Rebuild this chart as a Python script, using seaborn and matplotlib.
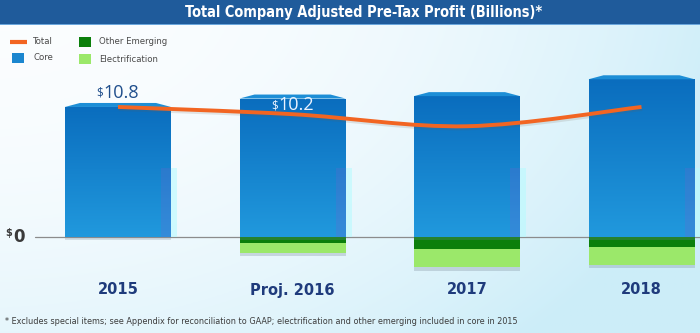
import numpy as np
import pandas as pd
import matplotlib
matplotlib.use("Agg")
import matplotlib.pyplot as plt
import matplotlib.patheffects as pe
from matplotlib import font_manager
from matplotlib.path import Path
from matplotlib.patches import PathPatch, Polygon, Rectangle
from matplotlib.colors import LinearSegmentedColormap
import seaborn as sns

# ---- data (billions of dollars) ----
years = ["2015", "Proj. 2016", "2017", "2018"]
core = [10.8, 11.5, 11.7, 13.1]
other_emerging = [0.0, -0.5, -1.0, -0.8]
electrification = [0.0, -0.8, -1.5, -1.5]
total = [10.8, 10.2, 9.2, 10.8]
value_labels = {0: "10.8", 1: "10.2"}

title = "Total Company Adjusted Pre-Tax Profit (Billions)*"
footnote = ("* Excludes special items; see Appendix for reconciliation to GAAP; "
            "electrification and other emerging included in core in 2015")

# ---- colours ----
C_TOTAL = "#f26522"
C_CORE = "#1b86cf"
C_CORE_TOP = "#0a6dbe"
C_CORE_BOT = "#2199dd"
C_BEVEL = "#1d8ed6"
C_OTHER = "#0b7f0b"
C_ELEC = "#9be86a"
C_NAVY = "#1f3b7c"

# pick a narrow face for the title, legend and footnote
_names = {f.name for f in font_manager.fontManager.ttflist}
_cond = {f.name for f in font_manager.fontManager.ttflist
         if f.stretch in ("condensed", "semi-condensed", 375)}
if "Liberation Sans Narrow" in _names:
    NARROW, STRETCH, NSCALE = ["Liberation Sans Narrow", "DejaVu Sans"], "normal", 1.0
elif "DejaVu Sans" in _cond:
    NARROW, STRETCH, NSCALE = ["DejaVu Sans"], "condensed", 0.95
else:
    NARROW, STRETCH, NSCALE = ["Roboto", "DejaVu Sans"], "normal", 0.86

sns.set_theme(style="white")
plt.rcParams["font.family"] = ["DejaVu Sans"]

W, H = 700, 333
fig = plt.figure(figsize=(W / 100, H / 100), dpi=100)

# background wash: white on the left fading into pale blue to the right/bottom
bg = fig.add_axes([0, 0, 1, 1], zorder=-10)
gx, gy = np.meshgrid(np.linspace(0, 1, 300), np.linspace(0, 1, 150))
t = np.clip(0.85 * gx ** 2.2 + 0.45 * gy ** 2 + 0.1 * gx * gy, 0, 1)
white = np.array([0.985, 0.993, 1.0])
blue = np.array([0.80, 0.93, 0.975])
img = white[None, None, :] * (1 - t[..., None]) + blue[None, None, :] * t[..., None]
bg.imshow(img, aspect="auto", extent=[0, 1, 0, 1], origin="upper")
bg.set_axis_off()

ax = fig.add_axes([0, 0, 1, 1])
ax.patch.set_alpha(0)
PXX, PXY = 174.5, 12.04          # pixels per category / per billion
X0, Y0 = 118, 237                 # pixel position of first category and of zero

df = pd.DataFrame({
    "year": years,
    "core": core,
    "neg_all": np.array(other_emerging) + np.array(electrification),
    "other": other_emerging,
})
BW = 106 / PXX

# negative stack: electrification drawn to the full negative depth, other emerging on top
sns.barplot(data=df, x="year", y="neg_all", color=C_ELEC, saturation=1,
            width=BW, ax=ax, zorder=2)
sns.barplot(data=df, x="year", y="other", color=C_OTHER, saturation=1,
            width=BW, ax=ax, zorder=3)
sns.barplot(data=df, x="year", y="core", color=C_CORE, saturation=1,
            width=BW, ax=ax, zorder=3)
neg_bars, other_bars, core_bars = ax.containers[:3]

ax.set_xlim(-X0 / PXX, (W - X0) / PXX)
ax.set_ylim(-(H - Y0) / PXY, Y0 / PXY)

for b in neg_bars:
    b.set_edgecolor("none")
    if b.get_height() < 0:
        b.set_path_effects([pe.SimplePatchShadow(offset=(0, -2.5), shadow_rgbFace="#7a8a99",
                                                 alpha=0.3), pe.Normal()])
for b in other_bars:
    b.set_edgecolor("none")

grad = np.linspace(0, 1, 256)[:, None]
cmap = LinearSegmentedColormap.from_list("core", [C_CORE_TOP, C_CORE_BOT])
for b, v in zip(core_bars, core):
    b.set_edgecolor("none")
    x0, w = b.get_x(), b.get_width()
    b.set_path_effects([pe.SimplePatchShadow(offset=(0, -2), shadow_rgbFace="#7a8a99",
                                             alpha=0.25), pe.Normal()])
    im = ax.imshow(grad, cmap=cmap, aspect="auto", extent=[x0, x0 + w, 0, v],
                   origin="upper", zorder=3.5)
    im.set_clip_path(b)
    # chamfered cap on top of each core bar
    inset, cap = 15 / PXX, 4 / PXY
    ax.add_patch(Polygon([(x0, v), (x0 + inset, v + cap), (x0 + w - inset, v + cap),
                          (x0 + w, v)], closed=True, facecolor=C_BEVEL,
                         edgecolor="none", zorder=3.5))
    # faint translucent strips along the lower right edge of each column
    ax.add_patch(Rectangle((x0 + w - 10 / PXX, 0), 10 / PXX, 5.7, facecolor="#7a5fd0",
                           alpha=0.22, edgecolor="none", zorder=3.6))
    ax.add_patch(Rectangle((x0 + w, 0), 6 / PXX, 5.7, facecolor="#b8fbff",
                           alpha=0.6, edgecolor="none", zorder=1.5))

# zero baseline
ax.plot([-(X0 - 35) / PXX, (W - X0) / PXX], [0, 0], color="#8c8c8c", lw=0.9, zorder=1)

# smooth total line (Catmull-Rom through the totals, drawn as cubic Beziers)
xs = np.arange(len(total), dtype=float)
ys = np.array(total, dtype=float)
verts = [(xs[0], ys[0])]
codes = [Path.MOVETO]
n = len(xs)
for i in range(n - 1):
    p0 = np.array([xs[max(i - 1, 0)], ys[max(i - 1, 0)]])
    p1 = np.array([xs[i], ys[i]])
    p2 = np.array([xs[i + 1], ys[i + 1]])
    p3 = np.array([xs[min(i + 2, n - 1)], ys[min(i + 2, n - 1)]])
    c1 = p1 + (p2 - p0) / 6
    c2 = p2 - (p3 - p1) / 6
    verts += [tuple(c1), tuple(c2), tuple(p2)]
    codes += [Path.CURVE4] * 3
line = PathPatch(Path(verts, codes), facecolor="none", edgecolor=C_TOTAL, lw=2.8,
                 capstyle="butt", zorder=5)
line.set_path_effects([pe.SimpleLineShadow(offset=(0.5, -1.5), shadow_color="#6b5a4a",
                                           alpha=0.15), pe.Normal()])
ax.add_patch(line)

# value labels with a small raised dollar sign
for i, txt in value_labels.items():
    if core[i] - total[i] < 0.3:
        y, col = core[i] + 1.2, "#1f4e8c"
    else:
        y, col = core[i] - 0.5, "#eaf2ff"
    t_num = ax.text(i + 0.02, y, txt, ha="center", va="center", fontsize=13,
                    family=["Open Sans", "DejaVu Sans"], color=col, zorder=6)
    ax.annotate("$", xy=(0, 1), xycoords=t_num, xytext=(-0.3, -2.5),
                textcoords="offset points", ha="right", va="top", fontsize=8.5,
                family=["Open Sans", "DejaVu Sans"], color=col, zorder=6)

# category labels
for i, yr in enumerate(years):
    ax.text(i, -(290 - Y0) / PXY, yr, ha="center", va="center", fontsize=10.5,
            fontweight="bold", color=C_NAVY, zorder=6)

# $0 axis label
z = ax.text(-(X0 - 13) / PXX, 0, "0", ha="left", va="center", fontsize=12,
            fontweight="bold", color="#3a3a3a", zorder=6)
ax.annotate("$", xy=(0, 1), xycoords=z, xytext=(-0.5, 0), textcoords="offset points",
            ha="right", va="top", fontsize=7, fontweight="bold", color="#3a3a3a")

ax.set_axis_off()

# ---- title band ----
def fy(py):
    return 1 - py / H

fig.patches.append(Rectangle((0, fy(24)), 1, 24 / H, transform=fig.transFigure,
                             facecolor="#1f5b9b", edgecolor="none", zorder=10))
fig.patches.append(Rectangle((0, fy(25)), 1, 1.2 / H, transform=fig.transFigure,
                             facecolor="#6aa6dc", edgecolor="none", zorder=10))
fig.text(364 / W, fy(12.5), title, ha="center", va="center", color="white",
         fontsize=11 * NSCALE, fontweight="bold", family=NARROW, stretch=STRETCH,
         zorder=11)

# ---- legend ----
fig.lines.append(plt.Line2D([10 / W, 27 / W], [fy(41.5)] * 2, transform=fig.transFigure,
                            color=C_TOTAL, lw=3, solid_capstyle="butt"))
for (px, py, col) in [(12, 52.5, C_CORE), (79, 37, C_OTHER), (79, 54, C_ELEC)]:
    fig.patches.append(Rectangle((px / W, fy(py + 10)), 12 / W, 10 / H,
                                 transform=fig.transFigure, facecolor=col,
                                 edgecolor="none"))
for (px, py, s) in [(33, 41.5, "Total"), (33, 58, "Core"), (99, 42, "Other Emerging"),
                    (99, 59, "Electrification")]:
    fig.text(px / W, fy(py), s, ha="left", va="center", fontsize=7.2 * NSCALE,
             color="#4a4a4a", family=NARROW, stretch=STRETCH)

# ---- footnote ----
fig.text(5 / W, fy(322), footnote, ha="left", va="center", fontsize=6.8 * NSCALE,
         color="#3c3c3c", family=NARROW, stretch=STRETCH)

fig.savefig("out.png", dpi=100)
